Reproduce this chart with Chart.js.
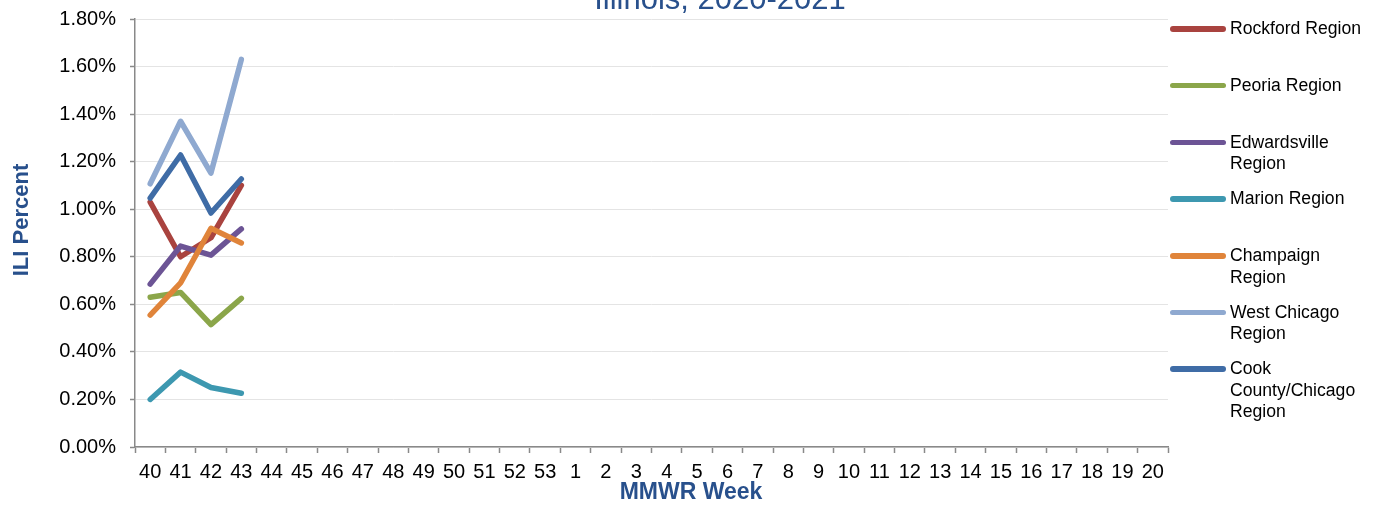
<!DOCTYPE html>
<html>
<head>
<meta charset="utf-8">
<title>ILI Percent by Region</title>
<script src="https://cdn.jsdelivr.net/npm/chart.js@4.4.1/dist/chart.umd.min.js"></script>
<style>
  html, body { margin: 0; padding: 0; background: #fff; }
  #wrap { position: relative; width: 1386px; height: 506px; font-family: "Liberation Sans", Arial, sans-serif; }
  #iliChart { position: absolute; left: 0; top: 0; }
  #legend { position: absolute; left: 1170px; top: 0; }
  .item { position: absolute; left: 0; width: 216px; font-size: 17.6px; line-height: 21.5px; color: #000; }
  .item .swatch { position: absolute; left: 0; top: 8px; width: 56px; height: 5.5px; border-radius: 3px; }
  .item .text { margin-left: 60px; }
</style>
</head>
<body>
<div id="wrap">
  <canvas id="iliChart" width="1386" height="506"></canvas>
  <div id="legend"></div>
</div>
<script>
// MMWR weeks of the 2020-2021 season
const weeks = ['40', '41', '42', '43', '44', '45', '46', '47', '48', '49', '50', '51', '52', '53',
  '1', '2', '3', '4', '5', '6', '7', '8', '9', '10', '11', '12', '13', '14', '15', '16', '17', '18', '19', '20'];

const regions = ['Rockford Region', 'Peoria Region', 'Edwardsville Region', 'Marion Region',
  'Champaign Region', 'West Chicago Region', 'Cook County/Chicago Region'];

// how the legend breaks each name
const legendLines = [
  ['Rockford Region'],
  ['Peoria Region'],
  ['Edwardsville', 'Region'],
  ['Marion Region'],
  ['Champaign', 'Region'],
  ['West Chicago', 'Region'],
  ['Cook', 'County/Chicago', 'Region'],
];

const colors = ['#a9433f', '#8ba64a', '#6c5495', '#3d98b0', '#e0843a', '#8fa9d0', '#3f6ca6'];

// ILI percent, weeks 40-43 reported so far
const rockford = [1.03, 0.80, 0.88, 1.10];
const peoria = [0.63, 0.65, 0.515, 0.625];
const edwardsville = [0.685, 0.845, 0.807, 0.917];
const marion = [0.20, 0.315, 0.25, 0.226];
const champaign = [0.555, 0.69, 0.92, 0.858];
const westChicago = [1.107, 1.37, 1.152, 1.63];
const cookCounty = [1.047, 1.228, 0.984, 1.127];

const seriesValues = [rockford, peoria, edwardsville, marion, champaign, westChicago, cookCounty];

const yTicks = [0, 0.2, 0.4, 0.6, 0.8, 1.0, 1.2, 1.4, 1.6, 1.8];

const FONT = '"Liberation Sans", Arial, sans-serif';
const BLUE = '#28508c';
const AXIS_GREY = '#898989';

class IliChart {
  /**
   * Titles: the main title is cut off at the top, axis titles centred like the original.
   */
  textPlugin = {
    id: 'chartText',
    afterDraw: (chart) => {
      const ctx = chart.ctx;
      ctx.save();
      ctx.fillStyle = BLUE;
      ctx.textAlign = 'center';
      ctx.textBaseline = 'alphabetic';
      ctx.font = '31px ' + FONT;
      ctx.fillText('Illinois, 2020-2021', 720, 9);

      ctx.font = 'bold 23px ' + FONT;
      ctx.textBaseline = 'middle';
      ctx.fillText('MMWR Week', 691, 493);

      ctx.translate(22, 220);
      ctx.rotate(-Math.PI / 2);
      ctx.font = 'bold 22px ' + FONT;
      ctx.fillText('ILI Percent', 0, 0);
      ctx.restore();
    },
  };

  buildDatasets = () => {
    return regions.map((name, i) => ({
      label: name,
      data: seriesValues[i],
      borderColor: colors[i],
      backgroundColor: colors[i],
      borderWidth: 5.5,
      pointRadius: 0,
      tension: 0,
      borderCapStyle: 'round',
      borderJoinStyle: 'round',
      order: regions.length - i, // later series drawn on top, as in the original
    }));
  };

  createChart = () => {
    new Chart(this.$canvas, {
      type: 'line',
      data: { labels: weeks, datasets: this.buildDatasets() },
      plugins: [this.textPlugin],
      options: {
        responsive: false,
        animation: false,
        layout: { padding: { top: 19, right: 218, left: 0, bottom: 0 } },
        plugins: { legend: { display: false }, tooltip: { enabled: false } },
        scales: {
          x: {
            offset: true,
            afterFit: (scale) => { scale.height = 59; scale.paddingLeft = 0; scale.paddingRight = 0; },
            grid: { display: true, offset: true, drawOnChartArea: false, tickLength: 6, tickColor: AXIS_GREY, tickWidth: 1.5 },
            border: { color: AXIS_GREY, width: 1.5 },
            ticks: { autoSkip: false, maxRotation: 0, padding: 7, color: '#000', font: { family: FONT, size: 20 } },
          },
          y: {
            min: 0,
            max: 1.8,
            afterFit: (scale) => { scale.width = 135; scale.paddingTop = 0; scale.paddingBottom = 0; },
            afterBuildTicks: (scale) => { scale.ticks = yTicks.map(v => ({ value: v })); },
            grid: { color: '#e4e4e4', lineWidth: 1, tickLength: 5, tickColor: AXIS_GREY, tickWidth: 1.5 },
            border: { color: AXIS_GREY, width: 1.5 },
            ticks: {
              padding: 14,
              color: '#000',
              font: { family: FONT, size: 20 },
              callback: (v) => v.toFixed(2) + '%',
            },
          },
        },
      },
    });
  };

  buildLegend = () => {
    regions.forEach((name, i) => {
      const $item = document.createElement('div');
      $item.className = 'item';
      $item.style.top = (29 + 56.7 * i - 10.75) + 'px';
      const $swatch = document.createElement('div');
      $swatch.className = 'swatch';
      $swatch.style.background = colors[i];
      const $text = document.createElement('div');
      $text.className = 'text';
      $text.innerHTML = legendLines[i].join('<br>');
      $item.appendChild($swatch);
      $item.appendChild($text);
      this.$legend.appendChild($item);
    });
  };

  constructor() {
    this.$canvas = document.querySelector('#iliChart');
    this.$legend = document.querySelector('#legend');
    this.createChart();
    this.buildLegend();
  }
}

window.onload = () => {
  window.iliChart = new IliChart();
};
</script>
</body>
</html>
